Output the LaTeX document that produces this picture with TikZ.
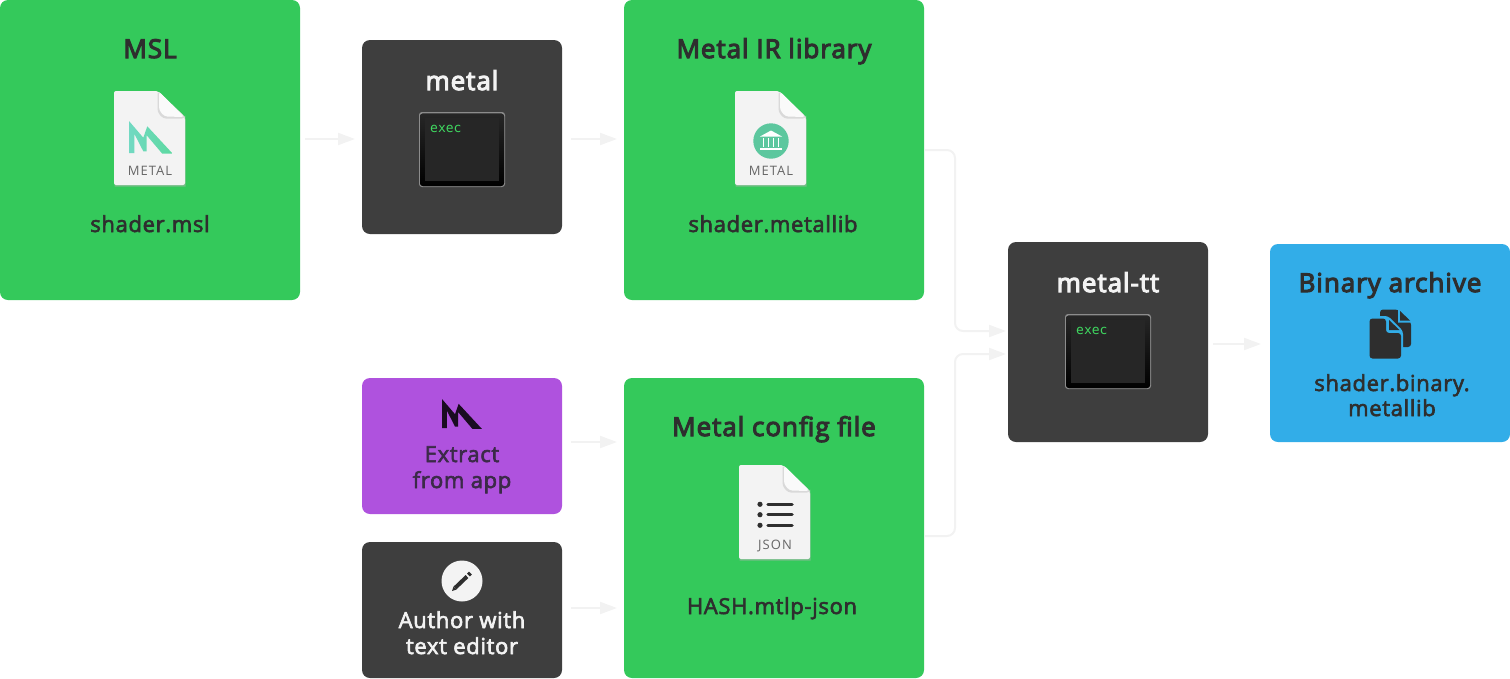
\documentclass[tikz,border=0pt]{standalone}
\usepackage{fontspec}
\setmainfont{Open Sans}
\setmonofont{DejaVu Sans Mono}
\newfontfamily\titlefont[FakeBold=4.2,LetterSpace=3.7]{Open Sans}
\newfontfamily\filefont[FakeBold=2.8,LetterSpace=3]{Open Sans}
\usetikzlibrary{arrows.meta}
\definecolor{boxgreen}{HTML}{34C95B}
\definecolor{boxdark}{HTML}{3E3E3E}
\definecolor{boxpurple}{HTML}{AF52DE}
\definecolor{boxblue}{HTML}{32ADE8}
\definecolor{inkdark}{HTML}{2E2E2E}
\definecolor{inkpurple}{HTML}{3B2A48}
\definecolor{flowgray}{HTML}{F2F2F2}
\definecolor{paper}{HTML}{F3F3F3}
\definecolor{foldgray}{HTML}{D9D9D9}
\definecolor{execgreen}{HTML}{3FD860}
\definecolor{mintleft}{HTML}{72D9C2}
\definecolor{mintright}{HTML}{5CD9A0}
\definecolor{bankgreen}{HTML}{5CC79E}
\tikzset{
	box/.style={rounded corners=8pt,minimum width=#1,inner sep=0pt,outer sep=0pt},
	title/.style={anchor=base,text=inkdark,font=\fontsize{26}{30}\selectfont\titlefont},
	file/.style={anchor=base,text=inkdark,font=\fontsize{22}{26}\selectfont\filefont},
	flow/.style={draw=flowgray,line width=2pt,rounded corners=8pt,-{Triangle[length=17pt,width=12pt]}},
	pics/docicon/.style={code={
		\fill[black!30,opacity=.5] (0.5,3)--(43,3)--(71.5,29)--(71.5,95.5)--(0.5,95.5)--cycle;
		\fill[paper,rounded corners=2pt] (0,0)--(44,0)--(71,26)--(71,94)--(0,94)--cycle;
		\fill[foldgray,rounded corners=3pt] (43.5,0)--(43.5,21)--(49,27.5)--(71,27.5)--(71,26)--cycle;
		\fill[white!60!paper,rounded corners=3pt] (45,0.5)--(45,19)--(50.5,25.5)--(70.5,26)--cycle;
		\node[anchor=base,text=black!60,font=\fontsize{13}{15}\selectfont] (#1) at (36,84) {\addfontfeature{LetterSpace=8}\doclabel};
	}},
	pics/metallogo/.style={code={
		\path[#1] (0,0)--(14.3,16.7)--(18.3,5.3)--(43.7,32.7)--(33.3,32.7)--(17.7,14.3)--(17.7,30.3)--(14.3,30.3)--(5.3,12.7)--(5.3,32)--(0,32)--cycle;
	}},
	pics/termicon/.style={code={
		\fill[black!45,rounded corners=3pt] (0,0) rectangle (86,75);
		\fill[top color=black!85,bottom color=black,rounded corners=3pt] (1,1.5) rectangle (85,74);
		\fill[black!85] (6,6) rectangle (80,69);
		\node[anchor=base west,text=execgreen,inner sep=0pt,font=\fontsize{13}{15}\selectfont\ttfamily] (#1) at (11,20) {exec};
	}},
}
\newcommand{\doclabel}{METAL}
\begin{document}
\begin{tikzpicture}[x=1pt,y=-1pt]
	\useasboundingbox (0,0) rectangle (1510,678);
	% boxes
	\node[box=300pt,minimum height=300pt,fill=boxgreen] (msl) at (150,150) {};
	\node[box=200pt,minimum height=194pt,fill=boxdark] (metal) at (462,137) {};
	\node[box=300pt,minimum height=300pt,fill=boxgreen] (irlib) at (774,150) {};
	\node[box=200pt,minimum height=136pt,fill=boxpurple] (extract) at (462,446) {};
	\node[box=200pt,minimum height=136pt,fill=boxdark] (author) at (462,610) {};
	\node[box=300pt,minimum height=300pt,fill=boxgreen] (config) at (774,528) {};
	\node[box=200pt,minimum height=200pt,fill=boxdark] (tt) at (1108,342) {};
	\node[box=240pt,minimum height=198pt,fill=boxblue] (archive) at (1390,343) {};
	% titles and file names
	\node[title] (msltitle) at (150,58) {MSL};
	\node[file] (mslfile) at (150,232) {shader.msl};
	\node[title,text=paper] (metaltitle) at (462,90) {metal};
	\node[title] (irtitle) at (774,58) {Metal IR library};
	\node[file] (irfile) at (773,232) {shader.metallib};
	\node[file,text=inkpurple] (extractone) at (462,462) {Extract};
	\node[file,text=inkpurple] (extracttwo) at (462,488) {from app};
	\node[file,text=paper] (authorone) at (462,628) {Author with};
	\node[file,text=paper] (authortwo) at (462,654) {text editor};
	\node[title] (configtitle) at (774,436) {Metal config file};
	\node[file] (configfile) at (772,614) {HASH.mtlp-json};
	\node[title,text=paper] (tttitle) at (1108,292) {metal-tt};
	\node[title] (archivetitle) at (1390,292) {Binary archive};
	\node[file] (archiveone) at (1392,391) {shader.binary.};
	\node[file] (archivetwo) at (1392,416) {metallib};
	% file icons
	\pic at (114,91) {docicon=mslicon};
	\pic at (129,121) {metallogo={left color=mintleft,right color=mintright}};
	\pic at (735,91) {docicon=iricon};
	\fill[bankgreen] (771,141) circle (17.7);
	\fill[white] (771,130.5)--(782,136.5)--(760,136.5)--cycle;
	\foreach \colx in {763.5,768.5,773.5,778.5}{
		\fill[white] (\colx-.8,138) rectangle (\colx+.8,147);
	}
	\fill[white] (760,148) rectangle (782,149.5);
	\begin{scope}[shift={(739,465)}]
		\renewcommand{\doclabel}{JSON}
		\pic at (0,0) {docicon=jsonicon};
		\foreach \rowy in {39.3,49.7,60.3}{
			\fill[inkdark] (21,\rowy) circle (2.6);
			\draw[inkdark,line width=3.5pt,line cap=round] (29,\rowy)--(53,\rowy);
		}
	\end{scope}
	% terminals
	\pic at (419,112) {termicon=metalterm};
	\pic at (1065,314) {termicon=ttterm};
	% small icons
	\pic[scale=.91] at (442,399) {metallogo={fill=black!85!boxpurple}};
	\fill[paper] (462,581) circle (20.5);
	\draw[inkdark,line width=4pt] (455,588)--(467,576.5);
	\draw[inkdark,line width=4pt] (468.5,575)--(470.5,573);
	\fill[inkdark] (452,591)--(453.5,586.5)--(456.5,589.5)--cycle;
	\fill[inkdark,rounded corners=3pt] (1380,309.5)--(1398,309.5)--(1411,322)--(1411,347)--(1380,347)--cycle;
	\fill[boxblue] (1398,309)--(1398,322.5)--(1412,322.5)--cycle;
	\fill[inkdark] (1400,311)--(1400,320.5)--(1410,320.5)--cycle;
	\fill[boxblue,rounded corners=3pt] (1367,316)--(1388,316)--(1403,331)--(1403,360)--(1367,360)--cycle;
	\fill[inkdark,rounded corners=3pt] (1369.5,318.5)--(1386,318.5)--(1386,333)--(1401,333)--(1401,358.5)--(1369.5,358.5)--cycle;
	\fill[inkdark] (1389,320)--(1389,330)--(1399.5,330)--cycle;
	% connectors
	\draw[flow,shorten <=5pt,shorten >=7pt] ([yshift=11pt]msl.east)--([yshift=-2pt]metal.west);
	\draw[flow,shorten <=9pt,shorten >=7pt] ([yshift=-2pt]metal.east)--([yshift=11pt]irlib.west);
	\draw[flow,shorten <=9pt,shorten >=7pt] ([yshift=4pt]extract.east)--([yshift=86pt]config.west);
	\draw[flow,shorten <=9pt,shorten >=7pt] ([yshift=2pt]author.east)--([yshift=-80pt]config.west);
	\draw[flow,shorten <=1pt,shorten >=2pt] (irlib.east)-|(955,331)--([yshift=11pt]tt.west);
	\draw[flow,shorten <=1pt,shorten >=2pt] ([yshift=-8pt]config.east)-|(955,354)--([yshift=-12pt]tt.west);
	\draw[flow,shorten <=5pt,shorten >=9pt] ([yshift=-2pt]tt.east)--([yshift=-1pt]archive.west);
\end{tikzpicture}
\end{document}
